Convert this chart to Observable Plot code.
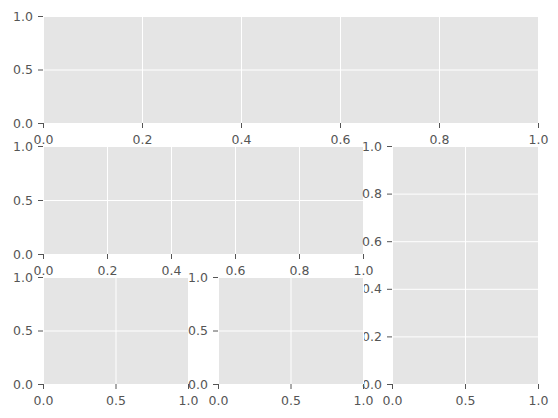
<!DOCTYPE html>
<html>
<head>
<meta charset="utf-8">
<script src="https://cdn.jsdelivr.net/npm/d3@7"></script>
<script src="https://cdn.jsdelivr.net/npm/@observablehq/plot@0.6"></script>
<style>
  html, body { margin: 0; padding: 0; background: #ffffff; }
  #fig { position: relative; width: 558px; height: 418px; overflow: hidden; }
  #fig svg { position: absolute; left: 0; top: 0; overflow: visible; background: transparent !important; }
  #fig svg text { font-family: "DejaVu Sans", sans-serif !important; font-size: 12.5px !important; fill: #555555; }
</style>
</head>
<body>
<div id="fig"></div>
<script>
// Tick values for each subplot (subplot2grid layout, all axes empty, limits 0..1)
const ticksFine = [0, 0.2, 0.4, 0.6, 0.8, 1.0];
const ticksHalf = [0, 0.5, 1.0];
const domain01 = [0, 1];

// Subplots in creation order: name, x ticks, y ticks, box [x0, y0, x1, y1] in page pixels
const axNames = ["ax1", "ax2", "ax3", "ax4", "ax5"];
const axXTicks = [ticksFine, ticksFine, ticksHalf, ticksHalf, ticksHalf];
const axYTicks = [ticksHalf, ticksHalf, ticksFine, ticksHalf, ticksHalf];
const axBoxes = [
  [43, 16, 538, 123],
  [43, 146, 363, 254],
  [392, 146, 538, 384],
  [43, 277, 188, 384],
  [218, 277, 363, 384]
];

const W = 558, H = 418;
const fmt = d3.format(".1f");
const fig = document.getElementById("fig");

axNames.forEach((name, i) => {
  const [x0, y0, x1, y1] = axBoxes[i];
  const plot = Plot.plot({
    width: W,
    height: H,
    marginLeft: x0,
    marginRight: W - x1,
    marginTop: y0,
    marginBottom: H - y1,
    style: { background: "transparent", color: "#555555" },
    x: { domain: domain01 },
    y: { domain: domain01 },
    marks: [
      Plot.frame({ fill: "#E5E5E5", stroke: null }),
      Plot.gridX(axXTicks[i], { stroke: "#ffffff", strokeOpacity: 1, strokeWidth: 1 }),
      Plot.gridY(axYTicks[i], { stroke: "#ffffff", strokeOpacity: 1, strokeWidth: 1 }),
      Plot.axisX(axXTicks[i], { tickFormat: fmt, tickSize: 5, tickPadding: 7, label: null }),
      Plot.axisY(axYTicks[i], { tickFormat: fmt, tickSize: 5, tickPadding: 5.5, label: null })
    ]
  });
  plot.setAttribute("aria-label", name);
  fig.appendChild(plot);
});
</script>
</body>
</html>
